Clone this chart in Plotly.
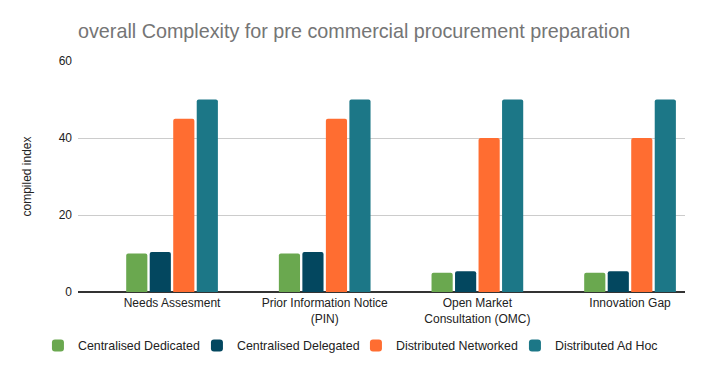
import plotly.graph_objects as go

categories = ["Needs Assesment", "Prior Information Notice<br>(PIN)",
              "Open Market<br>Consultation (OMC)", "Innovation Gap"]
series_names = ["Centralised Dedicated", "Centralised Delegated",
                "Distributed Networked", "Distributed Ad Hoc"]
centralised_dedicated = [10, 10, 5, 5]
centralised_delegated = [10.4, 10.4, 5.4, 5.4]
distributed_networked = [45, 45, 40, 40]
distributed_ad_hoc = [50, 50, 50, 50]
colors = ["#6AA84F", "#03475F", "#FF6D31", "#1C7787"]

fig = go.Figure()
for name, vals, c in zip(series_names,
                         [centralised_dedicated, centralised_delegated,
                          distributed_networked, distributed_ad_hoc], colors):
    fig.add_trace(go.Bar(x=categories, y=vals, name=name, marker_color=c,
                         marker_line_width=0))

fig.update_layout(
    width=705, height=371,
    margin=dict(l=78, r=20, t=61, b=79, autoexpand=False),
    paper_bgcolor="white", plot_bgcolor="white",
    font=dict(family="Liberation Sans, Arial, sans-serif", size=12, color="#222222"),
    title=dict(text="overall Complexity for pre commercial procurement preparation",
               x=78/705, xanchor="left", y=1-31/371, yanchor="middle",
               font=dict(size=19.75, color="#757575")),
    barmode="group", bargap=0.384, bargroupgap=0.1, barcornerradius=2,
    showlegend=True,
    legend=dict(orientation="h", x=-0.066, xanchor="left", y=-0.234, yanchor="middle",
                font=dict(size=12.4, color="#222222"), itemwidth=30,
                entrywidth=114, entrywidthmode="pixels"),
    xaxis=dict(range=[-0.616, 3.36], showgrid=False, ticks="", showline=False,
               ticklabelstandoff=2,
               tickfont=dict(size=12, color="#222222")),
    yaxis=dict(range=[0, 60], dtick=20, showgrid=True, gridcolor="#CCCCCC",
               zeroline=True, zerolinecolor="#333333", zerolinewidth=1.5,
               ticks="", ticklabelstandoff=5, tickfont=dict(size=12, color="#222222"),
               title=dict(text="compiled index", font=dict(size=12, color="#222222"),
                          standoff=24)),
)
fig.write_html("out.html", config={"displayModeBar": False},
               post_script="document.body.style.margin='0';")
